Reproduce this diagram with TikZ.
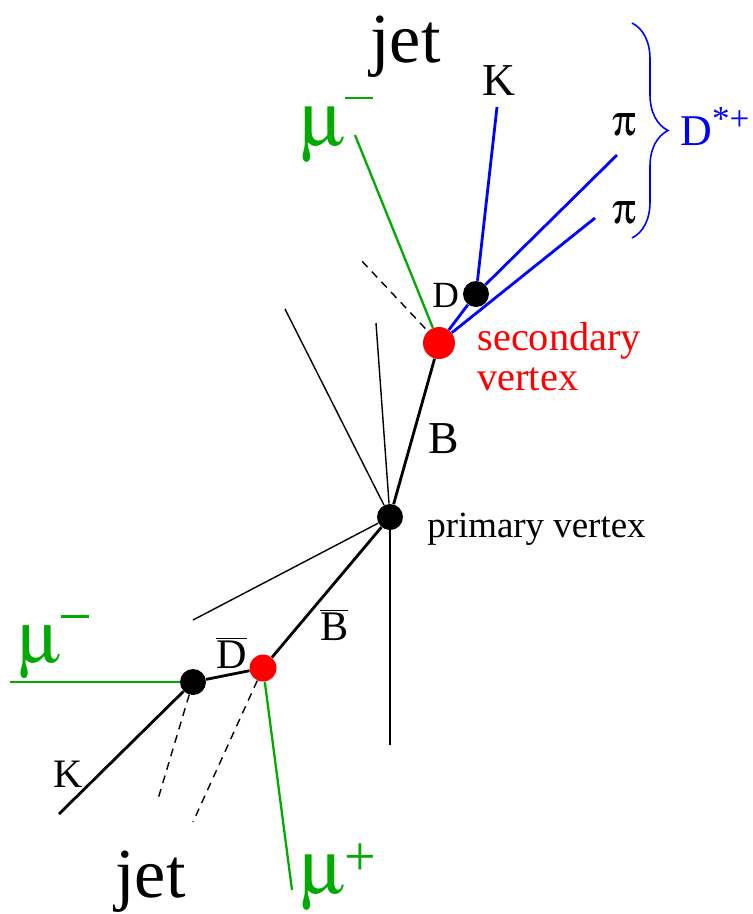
\documentclass[tikz,border=0pt]{standalone}
\usepackage{fontspec}
\setmainfont{Liberation Serif}
\usepackage[Symbol]{upgreek}
\usetikzlibrary{decorations.pathreplacing}
\definecolor{mugreen}{RGB}{0,170,0}
\newcommand{\fsz}[1]{\fontsize{#1}{#1}\selectfont}
\newcommand{\chminus}[2]{\rule[#1]{#2}{1.5pt}}

\begin{document}
\begin{tikzpicture}[
    x=0.02cm, y=-0.02cm,
    vtx/.style={circle, fill=black, inner sep=0pt, minimum size=0.52cm},
    svtx/.style={vtx, fill=red, minimum size=0.64cm},
    lbl/.style={inner sep=0pt, anchor=base west},
    heavy/.style={line width=1.6pt},
    light/.style={line width=0.8pt},
    btrack/.style={line width=1.6pt, color=blue},
    gtrack/.style={line width=1.3pt, color=mugreen},
    ghost/.style={line width=0.8pt, dash pattern=on 4.5pt off 3.5pt},
]
\useasboundingbox (0,0) rectangle (753,914);

% 顶点
\node[vtx] (PV) at (390,517) {};
\node[svtx] (SV) at (439,343) {};
\node[vtx] (DV) at (476,294) {};
\node[vtx] (DbV) at (193,682) {};
\node[svtx, minimum size=0.54cm] (BbV) at (263,668) {};

% 径迹端点
\coordinate (kUp) at (497,107);
\coordinate (piUp) at (617,155);
\coordinate (piLo) at (595,218);
\coordinate (muUp) at (355,135);
\coordinate (dashUp) at (359,258);
\coordinate (fragA) at (285,309);
\coordinate (fragB) at (376,323);
\coordinate (fragC) at (390,745);
\coordinate (fragD) at (193,620);
\coordinate (muLeft) at (10,682);
\coordinate (kLo) at (59,814);
\coordinate (muLo) at (292,890);
\coordinate (dashA) at (158,799);
\coordinate (dashB) at (193,822);
\coordinate (braceTop) at (632,23);
\coordinate (braceBot) at (632,238);

% B 一侧
\draw[heavy] (PV) -- (SV);
\draw[btrack] (SV) -- (DV);
\draw[btrack] (DV) -- (kUp);
\draw[btrack] (DV) -- (piUp);
\draw[btrack] (SV) -- (piLo);
\draw[gtrack] (SV) -- (muUp);
\draw[ghost, shorten <=2pt] (SV) -- (dashUp);

% 碎片
\draw[light] (PV) -- (fragA);
\draw[light] (PV) -- (fragB);
\draw[light] (PV) -- (fragC);
\draw[light] (PV) -- (fragD);

% Bbar 一侧
\draw[heavy] (PV) -- (BbV);
\draw[heavy] (BbV) -- (DbV);
\draw[heavy] (DbV) -- (kLo);
\draw[gtrack] (DbV) -- (muLeft);
\draw[gtrack] (BbV) -- (muLo);
\draw[ghost] (DbV) -- (dashA);
\draw[ghost] (BbV) -- (dashB);

% 括号
\draw[blue, line width=0.9pt, decorate, decoration={brace, amplitude=0.72cm}]
    (braceTop) -- (braceBot);

% 标签
\node[lbl, font=\fsz{40}] (jetUp) at (370,62) {jet};
\node[lbl, font=\fsz{26}] (kLabUp) at (482,95) {K};
\node[lbl, font=\fsz{25}] (piLabA) at (612,135) {$\uppi$};
\node[lbl, font=\fsz{25}] (piLabB) at (612,223) {$\uppi$};
\node[lbl, font=\fsz{44}, text=mugreen] (muLabUp) at (300,145) {$\upmu$\chminus{26pt}{16pt}};
\node[lbl, font=\fsz{25}, text=blue] (dStar) at (680,145) {D\raisebox{8pt}{\fsz{20}*+}};
\node[lbl, font=\fsz{21}] (dLab) at (432,307) {D};
\node[lbl, font=\fsz{23}, text=red, align=left, anchor=north west] (svLab) at (477,322)
    {\fsz{23}\baselineskip=19pt secondary\\vertex};
\node[lbl, font=\fsz{26}] (bLab) at (428,453) {B};
\node[lbl, font=\fsz{21}] (pvLab) at (427,537) {primary vertex};

\node[lbl, font=\fsz{42}, text=mugreen] (muLabLeft) at (18,662) {$\upmu$\chminus{25pt}{16pt}};
\node[lbl, font=\fsz{24}] (dbLab) at (216,668) {$\overline{\mbox{D}}$};
\node[lbl, font=\fsz{24}] (bbLab) at (320,640) {$\overline{\mbox{B}}$};
\node[lbl, font=\fsz{23}] (kLabLo) at (53,787) {K};
\node[lbl, font=\fsz{40}] (jetLo) at (115,897) {jet};
\node[lbl, font=\fsz{44}, text=mugreen] (muLabLo) at (300,893) {$\upmu$\raisebox{10pt}{\fsz{32}+}};

\end{tikzpicture}
\end{document}
